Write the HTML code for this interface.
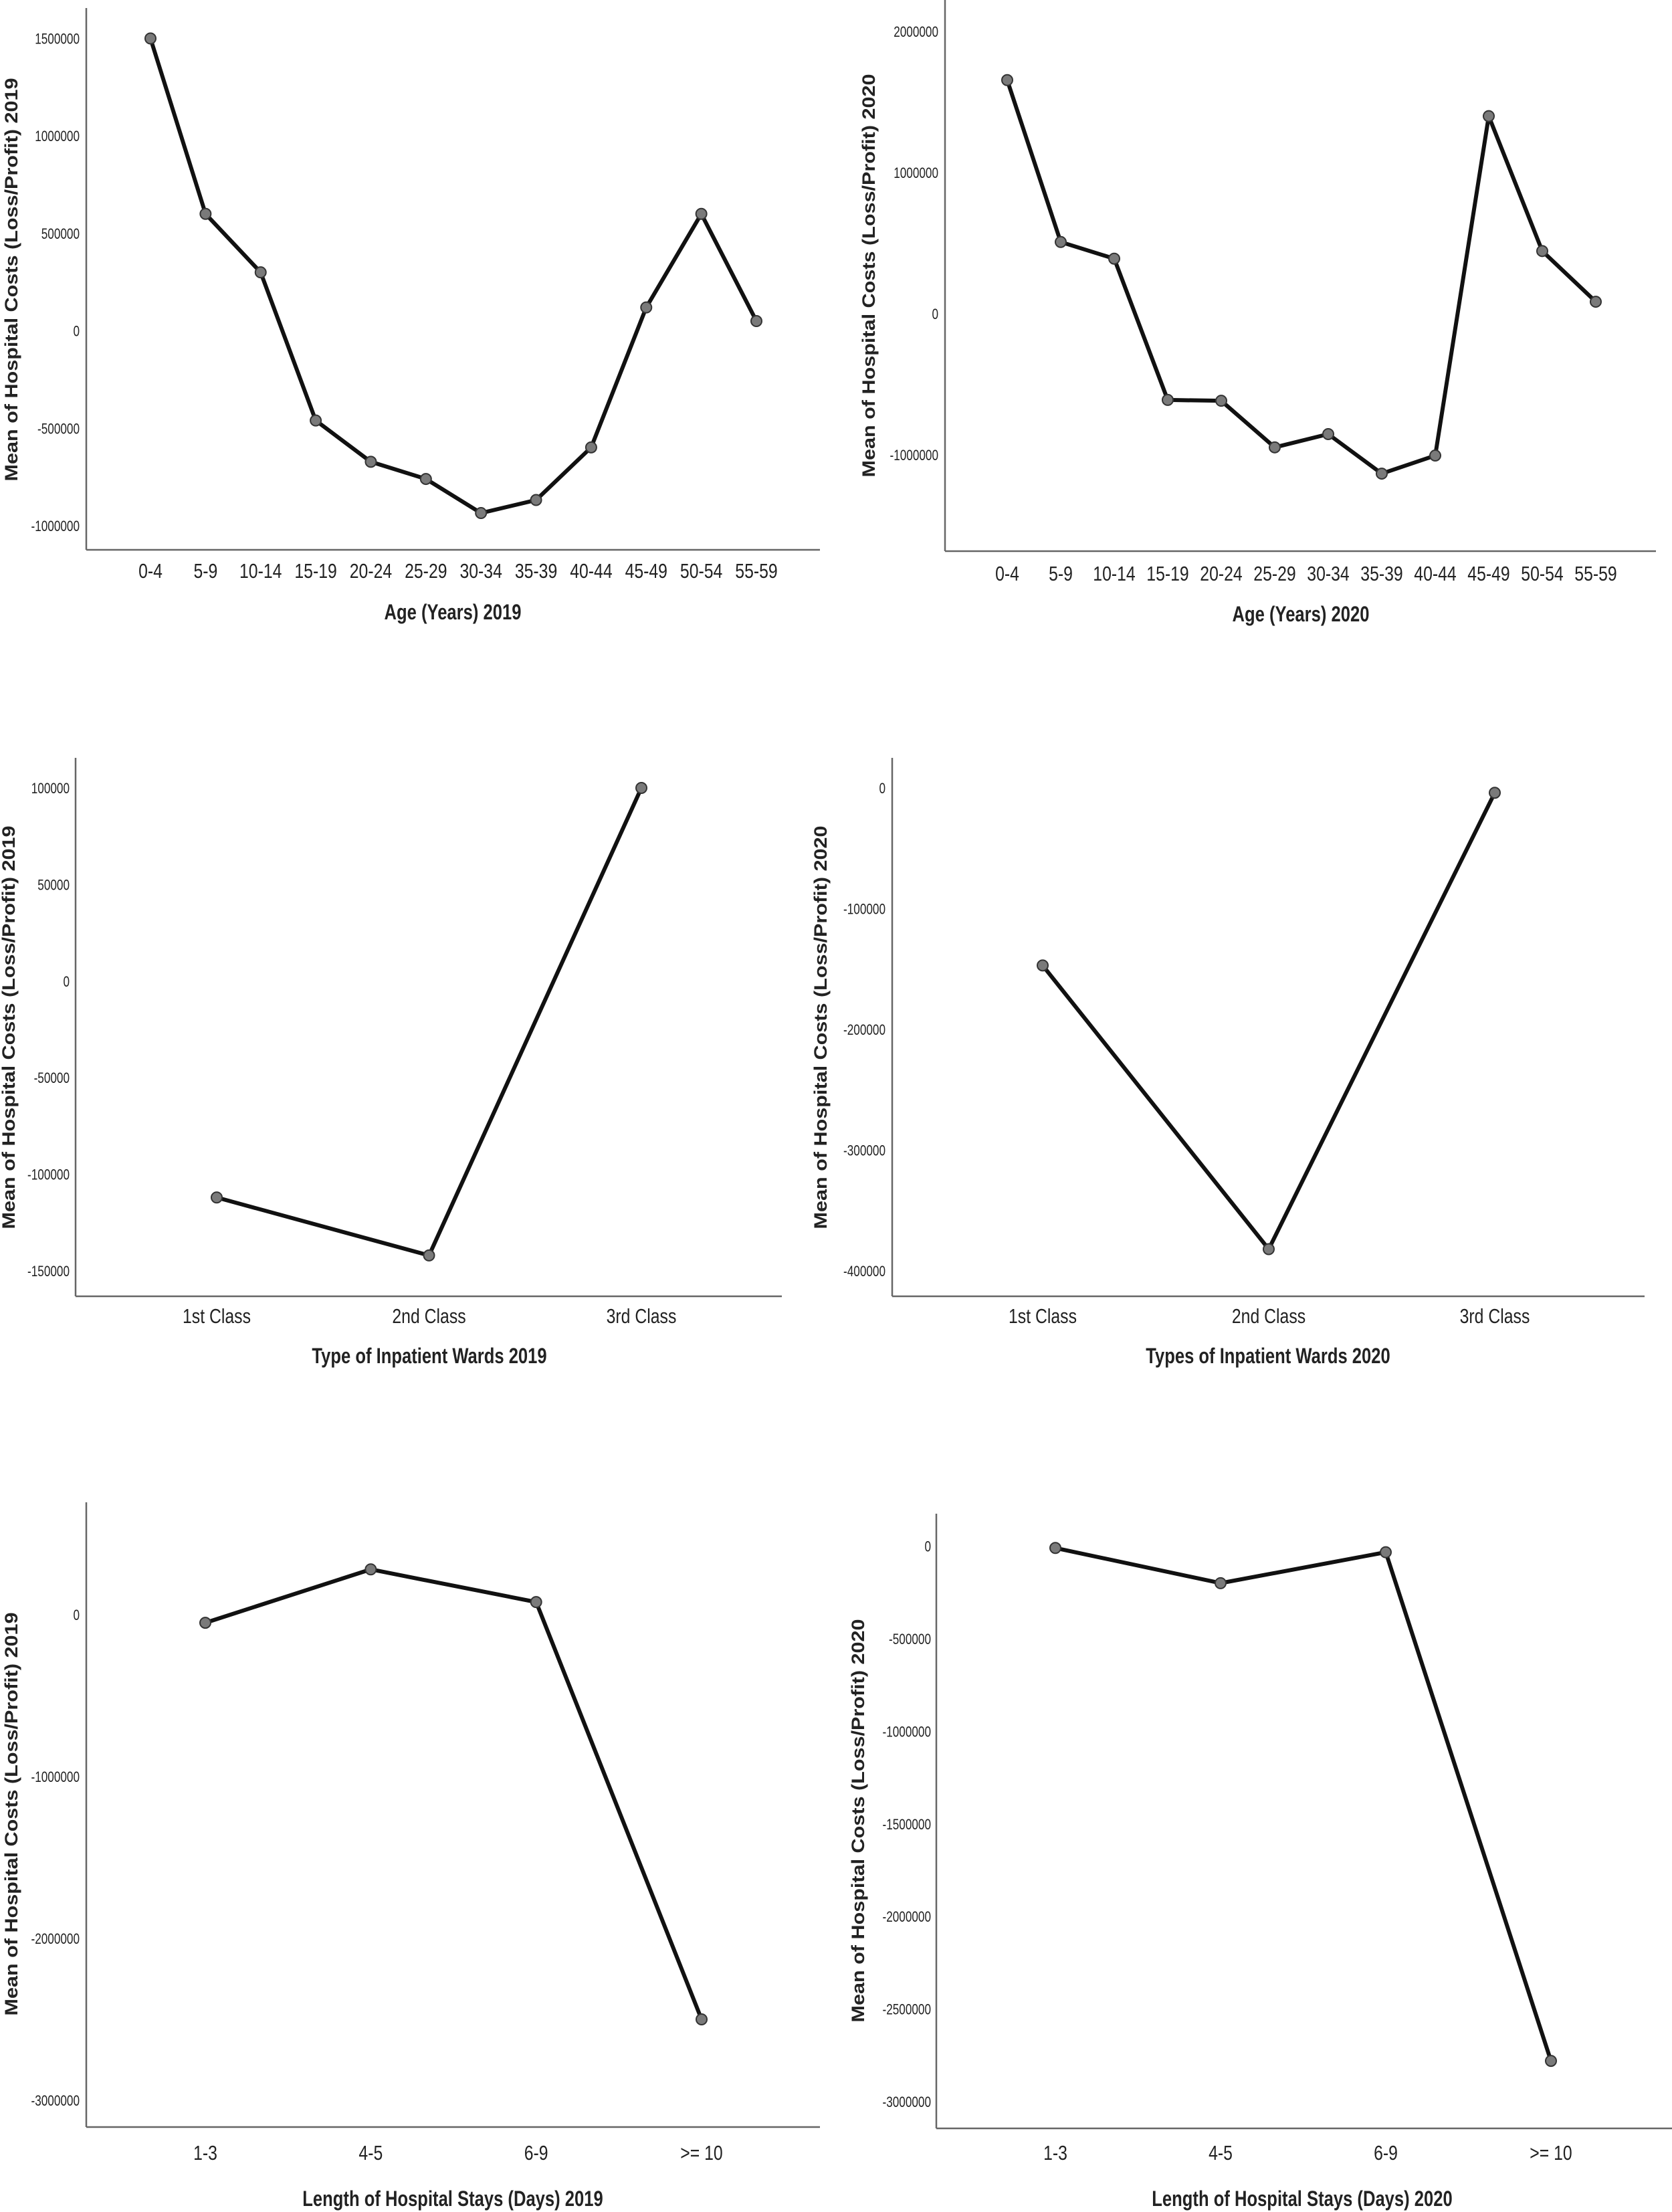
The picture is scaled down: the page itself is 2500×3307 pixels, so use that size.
<!DOCTYPE html>
<html><head><meta charset="utf-8"><style>
html,body{margin:0;padding:0;background:#fff;}
svg{display:block;}
text{font-family:"Liberation Sans",sans-serif;fill:#222;}
</style></head><body>
<svg id="fig" width="2500" height="3307" viewBox="0 0 2500 3307" xmlns="http://www.w3.org/2000/svg"></svg>
<script>
const ageCats = ["0-4","5-9","10-14","15-19","20-24","25-29","30-34","35-39","40-44","45-49","50-54","55-59"];
const age2019 = [1500000,600000,300000,-460000,-672000,-760000,-935000,-868000,-598000,120000,600000,50000];
const age2020 = [1655000,508000,390000,-611000,-617000,-947000,-853000,-1133000,-1005000,1400000,444000,85000];
const wardCats = ["1st Class","2nd Class","3rd Class"];
const ward2019 = [-112000,-142000,100000];
const ward2020 = [-147000,-382000,-4000];
const stayCats = ["1-3","4-5","6-9",">= 10"];
const stay2019 = [-50000,280000,78000,-2500000];
const stay2020 = [-10000,-200000,-33000,-2780000];
const ticksAge2019 = [1500000,1000000,500000,0,-500000,-1000000];
const ticksAge2020 = [2000000,1000000,0,-1000000];
const ticksWard2019 = [100000,50000,0,-50000,-100000,-150000];
const ticksWard2020 = [0,-100000,-200000,-300000,-400000];
const ticksStay2019 = [0,-1000000,-2000000,-3000000];
const ticksStay2020 = [0,-500000,-1000000,-1500000,-2000000,-2500000,-3000000];

const NS="http://www.w3.org/2000/svg";
const svg=document.getElementById('fig');
function mk(tag,attrs,parent){const e=document.createElementNS(NS,tag);for(const k in attrs)e.setAttribute(k,attrs[k]);(parent||svg).appendChild(e);return e;}

const panels=[
 {id:"age-2019",cats:ageCats,vals:age2019,ticks:ticksAge2019,ax:129,top:12,bot:822,right:1226,c0:225,cN:1131,tv1:1500000,ty1:57.5,tv2:-1000000,ty2:786,tickR:119,catY:853,xt:"Age (Years) 2019",xtX:677,xtY:915,yt:"Mean of Hospital Costs (Loss/Profit) 2019",ytX:16,ytY:418},
 {id:"age-2020",cats:ageCats,vals:age2020,ticks:ticksAge2020,ax:1413,top:0,bot:824,right:2476,c0:1506,cN:2386,tv1:2000000,ty1:47,tv2:-1000000,ty2:680,tickR:1403,catY:857,xt:"Age (Years) 2020",xtX:1945,xtY:918,yt:"Mean of Hospital Costs (Loss/Profit) 2020",ytX:1298,ytY:412},
 {id:"ward-2019",cats:wardCats,vals:ward2019,ticks:ticksWard2019,ax:113,top:1133,bot:1938,right:1169,c0:324,cN:959,tv1:100000,ty1:1178,tv2:-150000,ty2:1900,tickR:104,catY:1967,xt:"Type of Inpatient Wards 2019",xtX:642,xtY:2027,yt:"Mean of Hospital Costs (Loss/Profit) 2019",ytX:12,ytY:1536},
 {id:"ward-2020",cats:wardCats,vals:ward2020,ticks:ticksWard2020,ax:1334,top:1133,bot:1938,right:2459,c0:1559,cN:2235,tv1:0,ty1:1178,tv2:-400000,ty2:1900,tickR:1324,catY:1967,xt:"Types of Inpatient Wards 2020",xtX:1896,xtY:2027,yt:"Mean of Hospital Costs (Loss/Profit) 2020",ytX:1226,ytY:1536},
 {id:"stay-2019",cats:stayCats,vals:stay2019,ticks:ticksStay2019,ax:129,top:2246,bot:3180,right:1226,c0:307,cN:1049,tv1:0,ty1:2414,tv2:-3000000,ty2:3140,tickR:119,catY:3218,xt:"Length of Hospital Stays (Days) 2019",xtX:677,xtY:3287,yt:"Mean of Hospital Costs (Loss/Profit) 2019",ytX:16,ytY:2712},
 {id:"stay-2020",cats:stayCats,vals:stay2020,ticks:ticksStay2020,ax:1400,top:2263,bot:3182,right:2500,c0:1578,cN:2319,tv1:0,ty1:2311.5,tv2:-3000000,ty2:3142,tickR:1392,catY:3218,xt:"Length of Hospital Stays (Days) 2020",xtX:1947,xtY:3287,yt:"Mean of Hospital Costs (Loss/Profit) 2020",ytX:1282,ytY:2722}
];

panels.forEach(p=>{
  const g=mk('g',{});
  
  
  const yS=v=>p.ty1+(v-p.tv1)*(p.ty2-p.ty1)/(p.tv2-p.tv1);
  const n=p.cats.length;
  const xS=i=>n>1?p.c0+i*(p.cN-p.c0)/(n-1):p.c0;
  const ya=mk('line',{x1:p.ax,y1:p.top,x2:p.ax,y2:p.bot,stroke:'#666','stroke-width':2.5},g);
  
  
  const xa=mk('line',{x1:p.ax,y1:p.bot,x2:p.right,y2:p.bot,stroke:'#666','stroke-width':2.5},g);
  
  
  p.ticks.forEach(t=>{
    const tx=mk('text',{transform:`translate(${p.tickR},${yS(t)+8}) scale(0.78,1)`,'text-anchor':'end','font-size':22},g);
    tx.textContent=String(t);
    
    
  });
  p.cats.forEach((c,i)=>{
    const tx=mk('text',{transform:`translate(${xS(i)},${p.catY+11}) scale(0.8,1)`,'text-anchor':'middle','font-size':31,fill:'#333'},g);
    tx.textContent=c;
    
    
  });
  const pts=p.vals.map((v,i)=>xS(i)+','+yS(v)).join(' ');
  const ln=mk('polyline',{points:pts,fill:'none',stroke:'#111','stroke-width':6,'stroke-linejoin':'round'},g);
  
  
  p.vals.forEach((v,i)=>{
    const c=mk('circle',{cx:xS(i),cy:yS(v),r:8,fill:'#7a7a7a',stroke:'#333','stroke-width':2},g);
    
    
  });
  const xt=mk('text',{transform:`translate(${p.xtX},${p.xtY+11}) scale(0.8,1)`,'text-anchor':'middle','font-size':32,'font-weight':'bold',fill:'#111'},g);
  xt.textContent=p.xt;
  
  
  const yt=mk('text',{transform:`translate(${p.ytX+10},${p.ytY}) rotate(-90)`,'text-anchor':'middle','font-size':27,'font-weight':'bold',fill:'#111',textLength:603,lengthAdjust:'spacingAndGlyphs'},g);
  yt.textContent=p.yt;
  
  
});
</script>
</body></html>
